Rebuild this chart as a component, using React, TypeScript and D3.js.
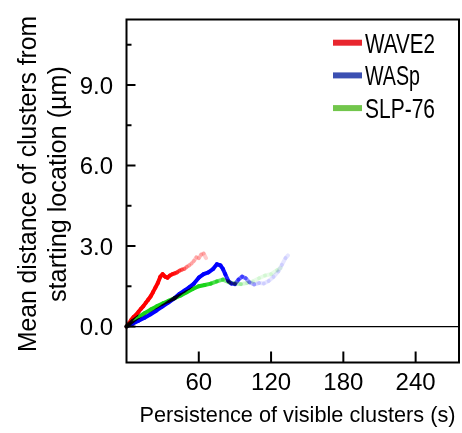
import React from 'react';
import * as d3 from 'd3';

// persistence (s) and mean distance (µm)
const waveTime = [0, 2, 4, 6, 8, 10, 12, 14, 16, 18, 20, 22, 24, 26, 28, 30, 32, 34, 36, 38, 40, 42, 44, 46, 48, 50, 52, 54, 56, 58, 60, 62, 64, 66];
const waveDist = [0, 0.12, 0.25, 0.36, 0.44, 0.55, 0.66, 0.76, 0.88, 1.0, 1.12, 1.28, 1.45, 1.62, 1.85, 1.95, 1.86, 1.82, 1.9, 1.95, 1.98, 2.02, 2.08, 2.12, 2.15, 2.22, 2.28, 2.35, 2.45, 2.58, 2.55, 2.68, 2.72, 2.55];

const waspTime = [0, 5, 10, 15, 20, 25, 30, 35, 40, 44, 48, 52, 56, 60, 64, 68, 72, 75, 78, 80, 82, 84.5, 87, 90, 93, 96, 99, 102, 106, 110, 114, 118, 122, 126, 129, 132, 134];
const waspDist = [0, 0.1, 0.22, 0.33, 0.46, 0.6, 0.75, 0.9, 1.06, 1.22, 1.34, 1.46, 1.6, 1.82, 1.95, 2.02, 2.15, 2.32, 2.28, 2.15, 1.95, 1.7, 1.6, 1.58, 1.75, 1.86, 1.8, 1.65, 1.57, 1.62, 1.6, 1.7, 1.85, 2.05, 2.3, 2.55, 2.65];

const slpTime = [0, 5, 10, 15, 20, 25, 30, 35, 40, 45, 50, 55, 60, 65, 70, 75, 80, 85, 90, 95, 100, 105, 110, 115, 120, 125, 128];
const slpDist = [0, 0.2, 0.36, 0.5, 0.63, 0.75, 0.86, 0.96, 1.06, 1.16, 1.28, 1.4, 1.5, 1.55, 1.6, 1.68, 1.75, 1.65, 1.6, 1.58, 1.62, 1.68, 1.8, 1.9, 1.95, 2.1, 2.18];

const seriesNames = ['WAVE2', 'WASp', 'SLP-76'];
const lineColors = ['#ff0000', '#0000ff', '#19d419'];
const legendColors = ['#e8262e', '#3b4fb2', '#72c64c'];
const fadeFrom = [34, 80, 66];
const fadeTo = [0.2, 0.1, 0.1];

const yTicks = [0, 3, 6, 9];
const yMinor = [1.5, 4.5, 7.5, 10.5];
const xTicks = [60, 120, 180, 240];

const W = 462, H = 433;
const left = 126.5, right = 459, top = 19.5, bottom = 362.5;
const font = 'Arial, "Liberation Sans", Helvetica, sans-serif';

const x = d3.scaleLinear().domain([0, 276]).range([left, right]);
const y = d3.scaleLinear().domain([-1.34, 11.44]).range([bottom, top]);

const Trace = ({ times, dists, color, start, minOp }) => {
	const end = times[times.length - 1];
	const segs = [];
	for (let i = 1; i < times.length; i++) {
		const t = times[i];
		const k = t <= start ? 0 : Math.min(1, (t - start) / ((end - start) * 0.6));
		const op = 1 - (1 - minOp) * k;
		segs.push(
			<line
				key={i}
				x1={x(times[i - 1])} y1={y(dists[i - 1])}
				x2={x(t)} y2={y(dists[i])}
				stroke={color} strokeWidth={4} strokeLinecap='round'
				strokeOpacity={op}
			/>
		);
	}
	return <g style={{ mixBlendMode: 'multiply' }}>{segs}</g>;
};

export default function App() {
	const data = [[waveTime, waveDist], [waspTime, waspDist], [slpTime, slpDist]];
	return (
		<div style={{ position: 'absolute', left: 0, top: 0 }}>
			<svg width={W} height={H} style={{ display: 'block', background: '#fff' }}>
				<g>
					{data.map((d, i) => (
						<Trace key={i} times={d[0]} dists={d[1]} color={lineColors[i]} start={fadeFrom[i]} minOp={fadeTo[i]} />
					))}
				</g>
				<line x1={left} x2={right} y1={y(0)} y2={y(0)} stroke='#000' strokeWidth={1.3} />
				<rect x={left} y={top} width={right - left} height={bottom - top} fill='none' stroke='#000' strokeWidth={2} />
				{yTicks.map(v => (
					<g key={v}>
						<line x1={left} x2={left + 9} y1={y(v)} y2={y(v)} stroke='#000' strokeWidth={2} />
						<text x={113} y={y(v)} dy='0.36em' textAnchor='end' fontFamily={font} fontSize={24}>{v.toFixed(1)}</text>
					</g>
				))}
				{yMinor.map(v => (
					<line key={v} x1={left} x2={left + 5} y1={y(v)} y2={y(v)} stroke='#000' strokeWidth={2} />
				))}
				{xTicks.map(v => (
					<g key={v}>
						<line x1={x(v)} x2={x(v)} y1={bottom} y2={bottom - 11} stroke='#000' strokeWidth={2} />
						<text x={x(v)} y={390} textAnchor='middle' fontFamily={font} fontSize={24}>{v}</text>
					</g>
				))}
				<text x={297.5} y={422} textAnchor='middle' fontFamily={font} fontSize={22} textLength={316} lengthAdjust='spacingAndGlyphs'>
					Persistence of visible clusters (s)
				</text>
				<text transform='translate(36 184) rotate(-90)' textAnchor='middle' fontFamily={font} fontSize={25} textLength={336} lengthAdjust='spacingAndGlyphs'>
					Mean distance of clusters from
				</text>
				<text transform='translate(66 184) rotate(-90)' textAnchor='middle' fontFamily={font} fontSize={25} textLength={236} lengthAdjust='spacingAndGlyphs'>
					starting location (µm)
				</text>
				{seriesNames.map((s, i) => (
					<g key={s}>
						<line x1={333} x2={362} y1={42.7 + i * 32.7} y2={42.7 + i * 32.7} stroke={legendColors[i]} strokeWidth={6} />
						<text x={365} y={42.7 + i * 32.7} dy='0.36em' fontFamily={font} fontSize={28}
							textLength={[70, 55, 70][i]} lengthAdjust='spacingAndGlyphs'>{s}</text>
					</g>
				))}
			</svg>
		</div>
	);
}
